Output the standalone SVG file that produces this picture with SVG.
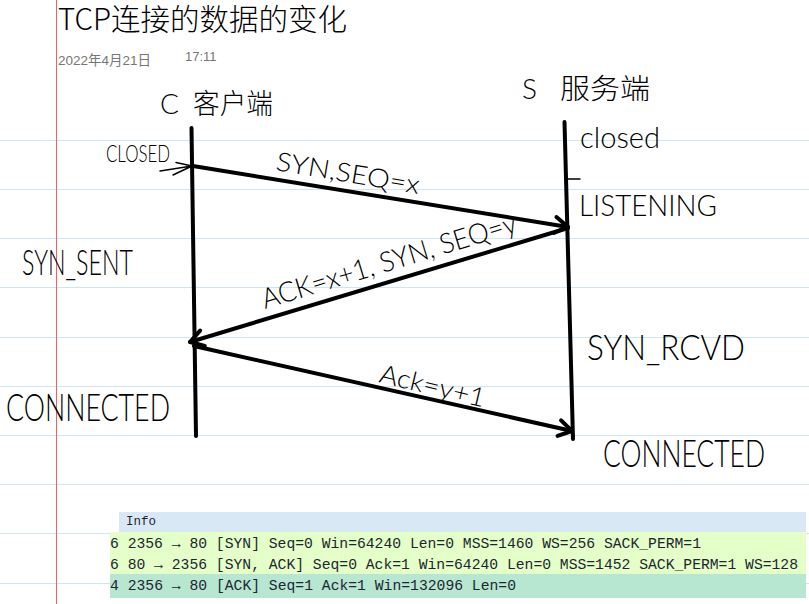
<svg xmlns="http://www.w3.org/2000/svg" width="809" height="604" viewBox="0 0 809 604">
<style>
.rule{stroke:#cce6f4;stroke-width:1}
.life{stroke:#000;stroke-width:4;stroke-linecap:round;fill:none}
.conn{stroke:#000;stroke-width:4;stroke-linecap:round;fill:none}
.thin{stroke:#000;stroke-width:1.5;stroke-linecap:round;stroke-linejoin:round;fill:none}
.hw{font-family:"Lato","Liberation Sans","DejaVu Sans",sans-serif;font-weight:300;fill:#000}
.cjk{font-family:"Lato","Noto Sans CJK SC",sans-serif;font-weight:300;fill:#000}
.mono{font-family:"Liberation Mono","DejaVu Sans Mono",monospace;font-size:14.7px;fill:#1c2633}
</style>
<defs>
<marker id="head" markerUnits="userSpaceOnUse" markerWidth="24" markerHeight="24" refX="14" refY="8" orient="auto" overflow="visible">
<path d="M1,0 L14,8 L1,16" fill="none" stroke="#000" stroke-width="4" stroke-linecap="round" stroke-linejoin="round"/>
</marker>
</defs>
<rect width="809" height="604" fill="#fff"/>
<g id="rules">
<line class="rule" x1="0" y1="140.5" x2="809" y2="140.5"/>
<line class="rule" x1="0" y1="189.5" x2="809" y2="189.5"/>
<line class="rule" x1="0" y1="238.5" x2="809" y2="238.5"/>
<line class="rule" x1="0" y1="287.5" x2="809" y2="287.5"/>
<line class="rule" x1="0" y1="337.5" x2="809" y2="337.5"/>
<line class="rule" x1="0" y1="386.5" x2="809" y2="386.5"/>
<line class="rule" x1="0" y1="435.5" x2="809" y2="435.5"/>
<line class="rule" x1="0" y1="484.5" x2="809" y2="484.5"/>
<line class="rule" x1="0" y1="533.5" x2="809" y2="533.5"/>
<line class="rule" x1="0" y1="583.5" x2="809" y2="583.5"/>
</g>
<line x1="56.5" y1="0" x2="56.5" y2="604" stroke="#f06060" stroke-width="1"/>
<g id="header">
<text x="58" y="30" font-family="'Noto Sans CJK SC','Liberation Sans',sans-serif" font-weight="300" font-size="29.5" fill="#000">TCP连接的数据的变化</text>
<text x="58" y="65" font-family="'Liberation Sans','Noto Sans CJK SC',sans-serif" font-size="13.5" fill="#767676">2022年4月21日</text>
<text x="185" y="61" font-family="'Liberation Sans',sans-serif" font-size="13" fill="#767676">17:11</text>
</g>
<g id="client">
<line class="life" x1="191.5" y1="128" x2="196" y2="436"/>
<text class="cjk" font-size="28" y="114"><tspan x="160">C</tspan> <tspan x="193" textLength="80" lengthAdjust="spacingAndGlyphs">客户端</tspan></text>
</g>
<g id="server">
<line class="life" x1="564.5" y1="122" x2="573" y2="439"/>
<line class="thin" x1="568" y1="179" x2="580" y2="179"/>
<text class="cjk" font-size="28" y="99"><tspan x="522">S</tspan> <tspan x="560" textLength="90" lengthAdjust="spacingAndGlyphs">服务端</tspan></text>
</g>
<g id="state-closed-client"><text class="hw" x="106" y="162" font-size="24" textLength="64" lengthAdjust="spacingAndGlyphs">CLOSED</text></g>
<g id="state-closed-server"><text class="hw" x="580" y="148" font-size="30" textLength="80" lengthAdjust="spacingAndGlyphs">closed</text></g>
<g id="state-listening"><text class="hw" x="579" y="216" font-size="30" textLength="138" lengthAdjust="spacingAndGlyphs">LISTENING</text></g>
<g id="state-syn-sent"><text class="hw" x="22" y="275" font-size="35" textLength="111" lengthAdjust="spacingAndGlyphs">SYN_SENT</text></g>
<g id="state-syn-rcvd"><text class="hw" x="587" y="360" font-size="36" textLength="158" lengthAdjust="spacingAndGlyphs">SYN_RCVD</text></g>
<g id="state-connected-client"><text class="hw" x="6" y="421" font-size="37" textLength="164" lengthAdjust="spacingAndGlyphs">CONNECTED</text></g>
<g id="state-connected-server"><text class="hw" x="603" y="467" font-size="37" textLength="162" lengthAdjust="spacingAndGlyphs">CONNECTED</text></g>
<g id="connectors">
<path class="thin" d="M160,171 L192,166 M176,162.5 L192,166 L173,175"/>
<line class="conn" x1="193" y1="166" x2="568" y2="227" marker-end="url(#head)"/>
<line class="conn" x1="568" y1="228" x2="190" y2="342" marker-end="url(#head)"/>
<line class="conn" x1="194" y1="346" x2="572" y2="431" marker-end="url(#head)"/>
<text class="hw" x="275" y="170" font-size="26" textLength="145" lengthAdjust="spacingAndGlyphs" transform="rotate(9.5 275 170)">SYN,SEQ=x</text>
<text class="hw" x="265" y="309" font-size="28" textLength="265" lengthAdjust="spacingAndGlyphs" transform="rotate(-17 265 309)">ACK=x+1, SYN, SEQ=y</text>
<text class="hw" x="378" y="382" font-size="26" textLength="108" lengthAdjust="spacingAndGlyphs" transform="rotate(13.5 378 382)">Ack=y+1</text>
</g>
<g id="packet-table">
<rect x="119" y="512" width="687" height="20" fill="#d9e8f5"/>
<rect x="110" y="532" width="696" height="42" fill="#e4ffc7"/>
<rect x="110" y="574" width="696" height="24" fill="#b7e6d1"/>
<text x="126" y="525" font-family="'Liberation Mono',monospace" font-size="13" fill="#1c2633" textLength="30" lengthAdjust="spacingAndGlyphs">Info</text>
<text class="mono" x="110" y="547.7" textLength="591" lengthAdjust="spacingAndGlyphs">6 2356 → 80 [SYN] Seq=0 Win=64240 Len=0 MSS=1460 WS=256 SACK_PERM=1</text>
<text class="mono" x="110" y="568.7" textLength="688" lengthAdjust="spacingAndGlyphs">6 80 → 2356 [SYN, ACK] Seq=0 Ack=1 Win=64240 Len=0 MSS=1452 SACK_PERM=1 WS=128</text>
<text class="mono" x="110" y="589.7" textLength="406" lengthAdjust="spacingAndGlyphs">4 2356 → 80 [ACK] Seq=1 Ack=1 Win=132096 Len=0</text>
</g>
</svg>
